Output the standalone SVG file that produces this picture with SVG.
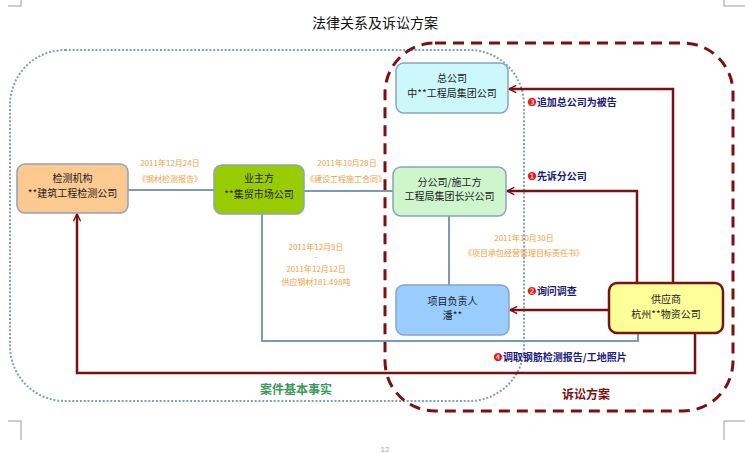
<svg xmlns="http://www.w3.org/2000/svg" width="745" height="453" viewBox="0 0 745 453">
<style>
  .bg{fill:#ffffff}
  .mark{stroke:#9a9a9a;stroke-width:1;fill:none}
  .title{font-family:"Noto Sans CJK SC","Liberation Sans",sans-serif;font-size:14px;fill:#111;text-anchor:middle}
  .region-facts{fill:none;stroke:#7f9fc0;stroke-width:2;stroke-dasharray:2 1.8}
  .region-plan{fill:none;stroke:#7b1010;stroke-width:3;stroke-dasharray:11 7}
  .conn{fill:none;stroke:#7b9ab8;stroke-width:2}
  .act{fill:none;stroke:#7a1010;stroke-width:2.5}
  .node rect{stroke:#8ba4bd;stroke-width:1.5}
  .node text{font-family:"Noto Sans CJK SC","Liberation Sans",sans-serif;font-size:10px;fill:#222;text-anchor:middle}
  .lbl{font-family:"Noto Sans CJK SC","Liberation Sans",sans-serif;font-size:8px;fill:#f0a040;text-anchor:middle}
  .act-lbl{font-family:"Noto Sans CJK SC","Liberation Sans",sans-serif;font-size:10px;font-weight:bold;fill:#1a1a7a}
  .num{font-family:"DejaVu Sans",sans-serif;fill:#e01818;font-size:11px;font-weight:normal}
  .reg-lbl{font-family:"Noto Sans CJK SC","Liberation Sans",sans-serif;font-size:12px;font-weight:bold;text-anchor:middle}
</style>
<defs>
  <marker id="arr" viewBox="0 0 10 10" refX="9" refY="5" markerWidth="9" markerHeight="9" markerUnits="userSpaceOnUse" orient="auto">
    <path d="M1,1 L9,5 L1,9" fill="none" stroke="#7a1010" stroke-width="1.6"/>
  </marker>
</defs>
<rect class="bg" x="0" y="0" width="745" height="453"/>

<!-- page corner marks -->
<g id="page-marks">
  <path class="mark" d="M8,6 H21 V0"/>
  <path class="mark" d="M745,6 H724 V0"/>
  <path class="mark" d="M8,421 H21 V440"/>
  <path class="mark" d="M745,421 H724 V440"/>
  <text x="385" y="452" font-family="Liberation Sans, sans-serif" font-size="8" fill="#aaaaaa" text-anchor="middle">12</text>
</g>

<text class="title" x="375" y="28">法律关系及诉讼方案</text>

<!-- regions -->
<g id="regions">
  <rect id="region-facts" class="region-facts" x="10" y="50" width="514" height="351" rx="55" ry="55"/>
  <rect id="region-plan" class="region-plan" x="385" y="43" width="348" height="368" rx="50" ry="50"/>
  <text class="reg-lbl" x="296" y="394" fill="#3a9a5a">案件基本事实</text>
  <text class="reg-lbl" x="586" y="399" fill="#801010">诉讼方案</text>
</g>

<!-- connectors -->
<g id="connectors">
  <path class="conn" d="M128,190 H214"/>
  <path class="conn" d="M304,191 H393"/>
  <path class="conn" d="M262,214 V341 H638 V333"/>
  <path class="conn" d="M449,216 V285"/>

  <path class="act" d="M673,283 V89 H509" marker-end="url(#arr)"/>
  <path class="act" d="M637,283 V191 H507" marker-end="url(#arr)"/>
  <path class="act" d="M609,310 H510" marker-end="url(#arr)"/>
  <path class="act" d="M695,333 V373 H77 V214" marker-end="url(#arr)"/>

  <text class="lbl" x="170" y="166">2011年12月24日</text>
  <text class="lbl" x="170" y="182">《钢材检测报告》</text>
  <text class="lbl" x="347" y="166">2011年10月28日</text>
  <text class="lbl" x="346" y="182">《建设工程施工合同》</text>
  <text class="lbl" x="316" y="250">2011年12月9日</text>
  <text class="lbl" x="316" y="260">-</text>
  <text class="lbl" x="316" y="272">2011年12月12日</text>
  <text class="lbl" x="316" y="285">供应钢材181.498吨</text>
  <text class="lbl" x="524" y="241">2011年10月30日</text>
  <text class="lbl" x="524" y="256">《项目承包经营管理目标责任书》</text>

  <text class="act-lbl" x="527" y="106"><tspan class="num">❸</tspan>追加总公司为被告</text>
  <text class="act-lbl" x="527" y="180"><tspan class="num">❶</tspan>先诉分公司</text>
  <text class="act-lbl" x="527" y="295"><tspan class="num">❷</tspan>询问调查</text>
  <text class="act-lbl" x="493" y="361"><tspan class="num">❹</tspan>调取钢筋检测报告/工地照片</text>
</g>

<!-- nodes -->
<g id="node-testing" class="node">
  <rect x="17" y="164" width="111" height="49" rx="8" fill="#fcc990"/>
  <text x="72.5" y="182">检测机构</text>
  <text x="72.5" y="197">**建筑工程检测公司</text>
</g>
<g id="node-owner" class="node">
  <rect x="214" y="165" width="90" height="49" rx="8" fill="#99cc00"/>
  <text x="259" y="182">业主方</text>
  <text x="259" y="198">**集贸市场公司</text>
</g>
<g id="node-hq" class="node">
  <rect x="396" y="63" width="112" height="50" rx="8" fill="#ccf7fb"/>
  <text x="452" y="82">总公司</text>
  <text x="452" y="97">中**工程局集团公司</text>
</g>
<g id="node-branch" class="node">
  <rect x="393" y="167" width="113" height="49" rx="8" fill="#cef5cc"/>
  <text x="449.5" y="186">分公司/施工方</text>
  <text x="449.5" y="200">工程局集团长兴公司</text>
</g>
<g id="node-pm" class="node">
  <rect x="396" y="285" width="113" height="50" rx="8" fill="#99ccff"/>
  <text x="452.5" y="305">项目负责人</text>
  <text x="452.5" y="319">潘**</text>
</g>
<g id="node-supplier" class="node">
  <rect x="609" y="283" width="114" height="50" rx="8" fill="#ffff99" style="stroke:#7a1414;stroke-width:2.5"/>
  <text x="666" y="303">供应商</text>
  <text x="666" y="318">杭州**物资公司</text>
</g>
</svg>
